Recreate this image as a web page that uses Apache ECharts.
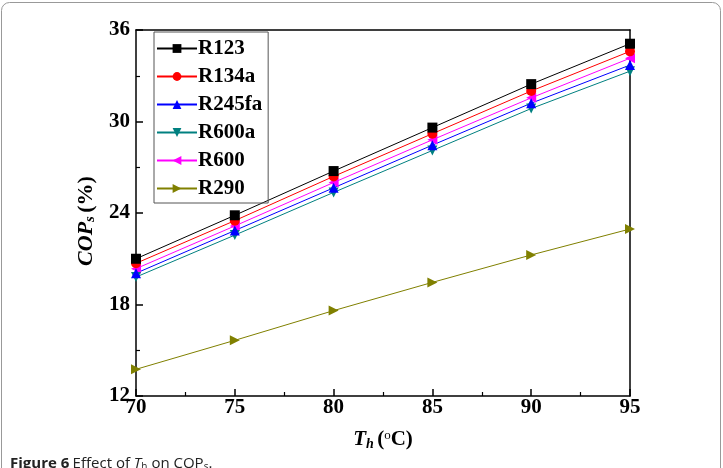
<!DOCTYPE html>
<html>
<head>
<meta charset="utf-8">
<script src="https://cdn.jsdelivr.net/npm/echarts@6/dist/echarts.min.js"></script>
<style>
  html, body { margin: 0; padding: 0; background: #fff; }
  #chart { width: 723px; height: 468px; }
</style>
</head>
<body>
<div id="chart"></div>
<script>
// data
const TEMPS = [70, 75, 80, 85, 90, 95];
const R123 = [21.0, 23.85, 26.75, 29.6, 32.45, 35.1];
const R134A = [20.7, 23.5, 26.4, 29.2, 32.0, 34.6];
const R245FA = [20.05, 22.85, 25.65, 28.45, 31.2, 33.7];
const R600A = [19.8, 22.55, 25.35, 28.1, 30.85, 33.3];
const R600 = [20.35, 23.15, 26.0, 28.8, 31.55, 34.15];
const R290 = [13.75, 15.65, 17.6, 19.45, 21.25, 22.95];
const Y_TICKS = [12, 18, 24, 30, 36];

const serif = '"Liberation Serif", "DejaVu Serif", serif';

const seriesDefs = [
  { name: 'R123', data: R123, color: '#000000', symbol: 'rect' },
  { name: 'R134a', data: R134A, color: '#ff0000', symbol: 'circle' },
  { name: 'R245fa', data: R245FA, color: '#0000ff', symbol: 'triangle' },
  { name: 'R600a', data: R600A, color: '#008080', symbol: 'path://M0,0 L10,0 L5,9 Z' },
  { name: 'R600', data: R600, color: '#ff00ff', symbol: 'path://M9,0 L9,10 L0,5 Z' },
  { name: 'R290', data: R290, color: '#808000', symbol: 'path://M0,0 L9,5 L0,10 Z' },
];

const chart = echarts.init(document.getElementById('chart'));

const axisLine = { show: true, onZero: false, lineStyle: { color: '#000', width: 1.5 } };

chart.setOption({
  animation: false,
  backgroundColor: '#fff',
  grid: { left: 136, right: 93, top: 30, bottom: 72 },
  legend: {
    left: 154,
    top: 32,
    orient: 'vertical',
    itemGap: 7,
    itemWidth: 40,
    itemHeight: 11,
    padding: [6, 6, 4, 2],
    borderColor: '#555',
    borderWidth: 1,
    textStyle: { fontFamily: serif, fontSize: 21, fontWeight: 'bold', color: '#000', padding: [0, 0, 0, -4] },
    data: seriesDefs.map((s) => s.name),
  },
  xAxis: [
    {
      type: 'value',
      min: 70,
      max: 95,
      interval: 5,
      axisLine,
      axisTick: { show: true, inside: true, length: 7, lineStyle: { color: '#000', width: 1.5 } },
      minorTick: { show: true, splitNumber: 2, length: 4, lineStyle: { color: '#000', width: 1.2 } },
      splitLine: { show: false },
      axisLabel: { fontFamily: serif, fontSize: 21, fontWeight: 'bold', color: '#000', margin: 1 },
      name: '{i|T}{sub|h} {n|(}{sup|o}{n|C)}',
      nameLocation: 'middle',
      nameGap: 33,
      nameTextStyle: {
        rich: {
          i: { fontFamily: serif, fontSize: 21, fontWeight: 'bold', fontStyle: 'italic', color: '#000' },
          sub: { fontFamily: serif, fontSize: 14, fontWeight: 'bold', fontStyle: 'italic', color: '#000', verticalAlign: 'bottom', padding: [8, 0, 0, 0] },
          sup: { fontFamily: serif, fontSize: 13, color: '#000', verticalAlign: 'top', padding: [0, 0, 8, 0] },
          n: { fontFamily: serif, fontSize: 21, fontWeight: 'bold', color: '#000' },
        },
      },
    },
    {
      type: 'value',
      position: 'top',
      min: 70,
      max: 95,
      axisLine,
      axisTick: { show: false },
      axisLabel: { show: false },
      splitLine: { show: false },
    },
  ],
  yAxis: [
    {
      type: 'value',
      min: Y_TICKS[0],
      max: Y_TICKS[Y_TICKS.length - 1],
      interval: 6,
      axisLine,
      axisTick: { show: true, inside: true, length: 7, lineStyle: { color: '#000', width: 1.5 } },
      minorTick: { show: true, splitNumber: 2, length: 4, lineStyle: { color: '#000', width: 1.2 } },
      splitLine: { show: false },
      axisLabel: { fontFamily: serif, fontSize: 21, fontWeight: 'bold', color: '#000', margin: 6 },
      name: '{i|COP}{sub|s} {n|(%)}',
      nameLocation: 'middle',
      nameGap: 38,
      nameRotate: 90,
      nameTextStyle: {
        padding: [0, 16, 0, 0],
        rich: {
          i: { fontFamily: serif, fontSize: 22, fontWeight: 'bold', fontStyle: 'italic', color: '#000' },
          sub: { fontFamily: serif, fontSize: 15, fontWeight: 'bold', fontStyle: 'italic', color: '#000', verticalAlign: 'bottom', padding: [8, 0, 0, 0] },
          n: { fontFamily: serif, fontSize: 22, fontWeight: 'bold', color: '#000' },
        },
      },
    },
    {
      type: 'value',
      position: 'right',
      min: 12,
      max: 36,
      axisLine,
      axisTick: { show: false },
      axisLabel: { show: false },
      splitLine: { show: false },
    },
  ],
  series: seriesDefs.map((s) => ({
    name: s.name,
    type: 'line',
    data: TEMPS.map((t, i) => [t, s.data[i]]),
    symbol: s.symbol,
    symbolSize: 10,
    showAllSymbol: true,
    color: s.color,
    lineStyle: { color: s.color, width: 1 },
    itemStyle: { color: s.color },
    clip: false,
  })).reverse(),
  graphic: [
    {
      type: 'rect',
      shape: { x: 1.5, y: 2.5, width: 719, height: 500, r: 8 },
      style: { fill: 'none', stroke: '#999', lineWidth: 1 },
      z: -1,
    },
    {
      type: 'text',
      left: 10,
      top: 456,
      style: {
        text: '{b|Figure 6} {n|Effect of }{i|T}{s|h}{n| on COP}{s|s}{n|.}',
        rich: {
          b: { fontFamily: '"Open Sans", sans-serif', fontSize: 15, fontWeight: 'bold', fill: '#222' },
          n: { fontFamily: '"Open Sans", sans-serif', fontSize: 15, fill: '#222' },
          i: { fontFamily: '"Open Sans", sans-serif', fontSize: 15, fontStyle: 'italic', fill: '#222' },
          s: { fontFamily: '"Open Sans", sans-serif', fontSize: 10, fill: '#222', verticalAlign: 'bottom', padding: [7, 0, 0, 0] },
        },
      },
    },
  ],
});
</script>
</body>
</html>
